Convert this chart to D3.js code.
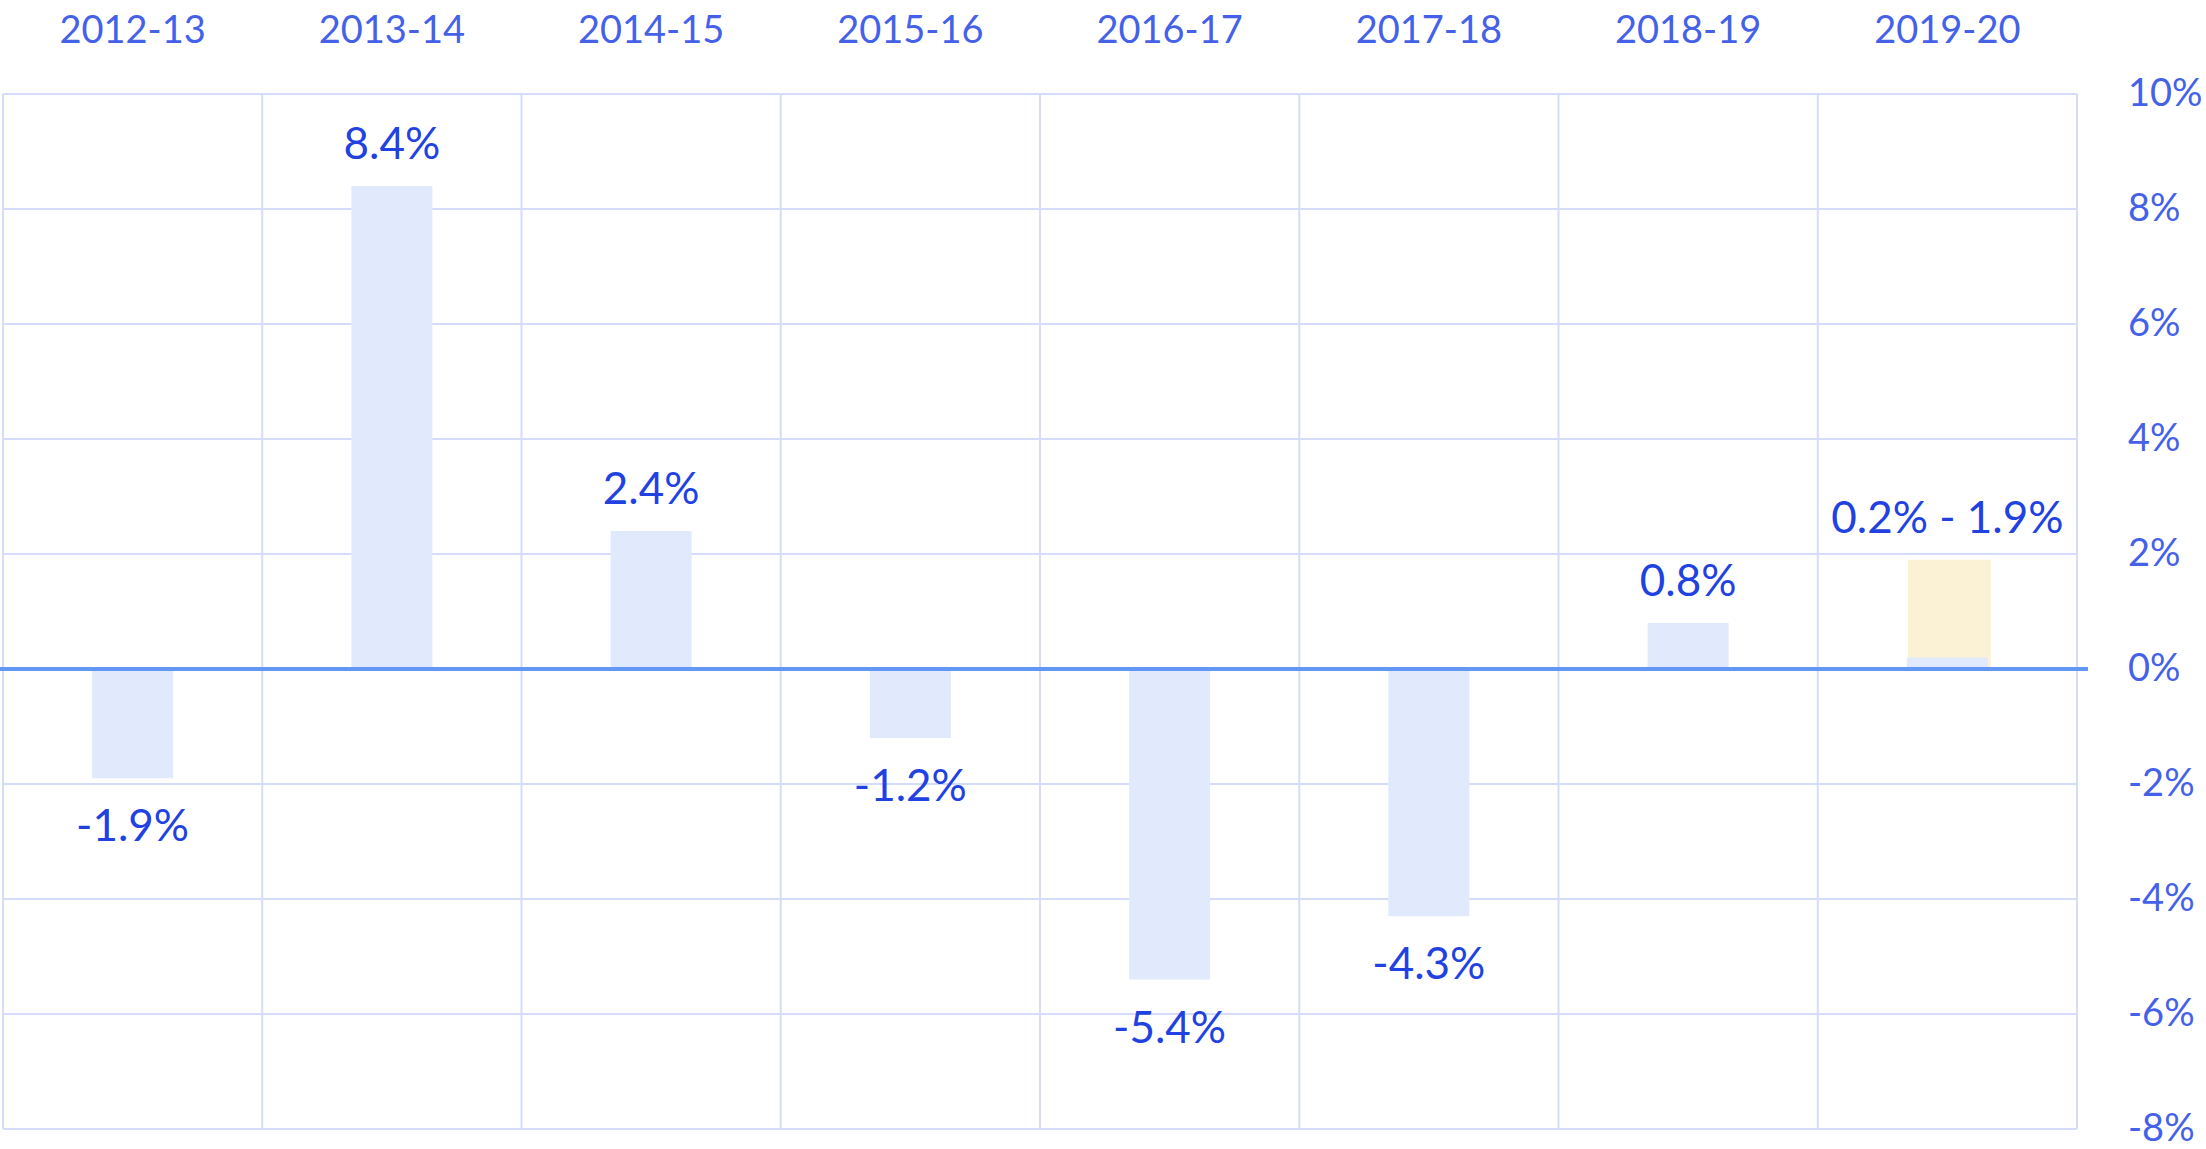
<!DOCTYPE html>
<html>
<head>
<meta charset="utf-8">
<script src="https://cdn.jsdelivr.net/npm/d3@7"></script>
<style>
  body { margin: 0; background: #fff; }
  text { font-family: Lato, "Open Sans", sans-serif; }
</style>
</head>
<body>
<div id="chart"></div>
<script>
// data
let years = ["2012-13", "2013-14", "2014-15", "2015-16", "2016-17", "2017-18", "2018-19", "2019-20"];
let growth = [-1.9, 8.4, 2.4, -1.2, -5.4, -4.3, 0.8, 0.2];
let forecastYear = "2019-20";
let forecastRange = [0.2, 1.9];
let yTicks = [-8, -6, -4, -2, 0, 2, 4, 6, 8, 10];

let W = 2206, H = 1149;
let plot = {left: 3, right: 2077, top: 94, bottom: 1129};
let barW = 81;

let svg = d3.select("#chart")
    .append("svg")
    .attr("width", W)
    .attr("height", H);

let x = d3.scaleBand()
    .domain(years)
    .range([plot.left, plot.right]);

let y = d3.scaleLinear()
    .domain([-8, 10])
    .range([plot.bottom, plot.top]);

// horizontal grid
svg.append("g").selectAll("line")
    .data(yTicks)
    .enter().append("line")
    .attr("x1", plot.left).attr("x2", plot.right)
    .attr("y1", d => y(d)).attr("y2", d => y(d))
    .attr("stroke", "#d5dcf9")
    .attr("stroke-width", 2);

// vertical grid (column borders)
let edges = years.map(d => x(d)).concat([plot.right]);
svg.append("g").selectAll("line")
    .data(edges)
    .enter().append("line")
    .attr("x1", d => d).attr("x2", d => d)
    .attr("y1", plot.top).attr("y2", plot.bottom)
    .attr("stroke", "#d5dcf9")
    .attr("stroke-width", 2);

let cx = d => x(d) + x.bandwidth() / 2;

// forecast range bar
svg.append("rect")
    .attr("x", cx(forecastYear) - barW / 2 + 1)
    .attr("width", barW + 2)
    .attr("y", y(forecastRange[1]))
    .attr("height", y(0) - y(forecastRange[1]))
    .attr("fill", "#fbf2d5");

// bars
svg.append("g").selectAll("rect")
    .data(growth)
    .enter().append("rect")
    .attr("x", (d, i) => cx(years[i]) - barW / 2)
    .attr("width", barW)
    .attr("y", d => y(Math.max(0, d)))
    .attr("height", d => Math.abs(y(d) - y(0)))
    .attr("fill", "#e1eafc");

// zero line
svg.append("line")
    .attr("x1", 0).attr("x2", 2088)
    .attr("y1", y(0)).attr("y2", y(0))
    .attr("stroke", "#6397f6")
    .attr("stroke-width", 4);

// value labels
svg.append("g").selectAll("text")
    .data(growth)
    .enter().append("text")
    .attr("x", (d, i) => cx(years[i]))
    .attr("y", (d, i) => {
        if (years[i] == forecastYear) return y(forecastRange[1]) - 27;
        return d >= 0 ? y(d) - 27 : y(d) + 63;
    })
    .attr("text-anchor", "middle")
    .attr("fill", "#2142e0")
    .style("font-size", "44px")
    .text((d, i) => years[i] == forecastYear
        ? forecastRange[0] + "% - " + forecastRange[1] + "%"
        : d + "%");

// category axis on top
let topAxis = svg.append("g")
    .attr("transform", "translate(0,43)")
    .call(d3.axisTop(x).tickSize(0).tickPadding(0));
topAxis.select(".domain").remove();
topAxis.selectAll("text")
    .attr("fill", "#4461e8")
    .style("font-size", "38px")
    .style("font-family", "Lato, 'Open Sans', sans-serif");

// value axis on the right
let rightAxis = svg.append("g")
    .attr("transform", "translate(2128,0)")
    .call(d3.axisRight(y).tickValues(yTicks).tickSize(0).tickPadding(0)
        .tickFormat(d => d + "%"));
rightAxis.select(".domain").remove();
rightAxis.selectAll("text")
    .attr("fill", "#4461e8")
    .attr("dy", "0.3em")
    .style("font-size", "38px")
    .style("font-family", "Lato, 'Open Sans', sans-serif");
</script>
</body>
</html>
